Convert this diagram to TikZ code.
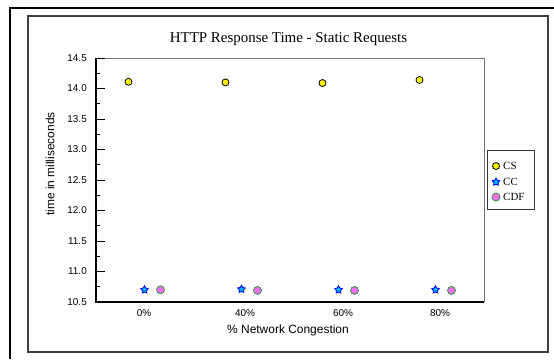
\documentclass[tikz,border=0pt]{standalone}
\usepackage{fontspec}
\setmainfont{Liberation Serif}
\setsansfont{Liberation Sans}
\usetikzlibrary{shapes.geometric}

\definecolor{cdffill}{RGB}{240,110,240}
\definecolor{cdfline}{RGB}{30,150,30}

\tikzset{
	csmark/.style={circle,draw=black,fill=yellow,line width=0.8bp,inner sep=0pt,minimum size=7bp},
	ccmark/.style={star,star points=5,star point ratio=1.8,draw=blue,fill=cyan,line width=0.8bp,inner sep=0pt,minimum size=8bp},
	cdfmark/.style={circle,draw=cdfline,fill=cdffill,line width=0.7bp,inner sep=0pt,minimum size=8bp},
	ticklabel/.style={font=\sffamily\fontsize{10}{12}\selectfont,inner sep=0pt},
	legendtext/.style={font=\fontsize{11}{13}\selectfont,inner sep=0pt,anchor=west}
}

\begin{document}
\begin{tikzpicture}[x=1bp,y=-1bp]
	\useasboundingbox (0,0) rectangle (554,359);
	% frames
	\draw[line width=2bp] (10,359)--(10,8)--(554,8);
	\draw[line width=1.2bp,black!75] (28,16) rectangle (548,352);
	% title
	\node (title) at (288.5,39) {\fontsize{15}{18}\selectfont HTTP Response Time - Static Requests};
	% plot area
	\draw[line width=1bp,black!55] (96,302)--(96,58)--(484,58)--(484,302);
	\draw[line width=1.2bp] (96,58)--(96,302)--(484,302);
	\begin{scope}[xshift=96bp,yshift=-302bp,x=97bp,y=61bp]
		% y ticks
		\foreach \v/\lab in {0/10.5,0.5/11.0,1/11.5,1.5/12.0,2/12.5,2.5/13.0,3/13.5,3.5/14.0,4/14.5}{
			\draw[line width=0.8bp] (0,\v)--++(9bp,0);
			\node[ticklabel,anchor=east] (y\lab) at ([xshift=-9bp]0,\v) {\lab};
		}
		\foreach \v in {0.25,0.75,...,3.75}
			\draw[line width=0.8bp] (0,\v)--++(4bp,0);
		% data
		\foreach \i/\cs/\cc/\cdf in {0/3.61/0.20/0.20, 1/3.60/0.21/0.19, 2/3.59/0.20/0.19, 3/3.64/0.20/0.19}{
			\node[csmark] (cs\i) at (\i+0.5-0.165,\cs) {};
			\node[ccmark] (cc\i) at (\i+0.5,\cc) {};
			\node[cdfmark] (cdf\i) at (\i+0.5+0.165,\cdf) {};
		}
	\end{scope}
	% x labels
	\foreach \x/\t in {144/0, 245/40, 343/60, 440/80}
		\node[ticklabel] (x\t) at (\x,313) {\t\%};
	\node[font=\sffamily\fontsize{12}{14}\selectfont] (xlabel) at (288,330) {\% Network Congestion};
	\node[font=\sffamily\fontsize{12}{14}\selectfont,rotate=90] (ylabel) at (50,164) {time in milliseconds};
	% legend
	\draw[line width=1bp,black!80] (487,150) rectangle (534,209);
	\node[csmark] (lcs) at (496,166) {};
	\node[ccmark] (lcc) at (496,182) {};
	\node[cdfmark] (lcdf) at (496,197) {};
	\node[legendtext] (tcs) at (503,166) {CS};
	\node[legendtext] (tcc) at (503,182) {CC};
	\node[legendtext] (tcdf) at (503,197) {CDF};
\end{tikzpicture}
\end{document}
